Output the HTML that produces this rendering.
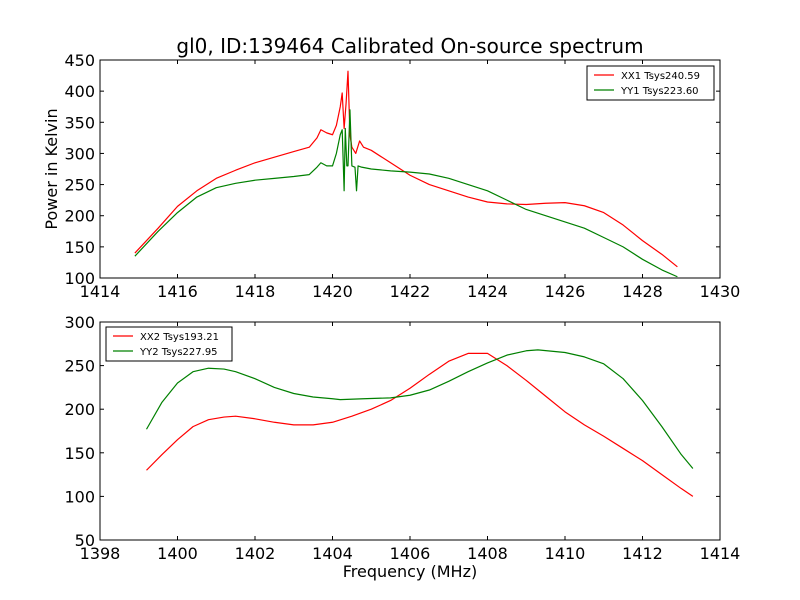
<!DOCTYPE html>
<html><head><meta charset="utf-8"><style>
body{margin:0;background:#fff;}
svg{display:block;font-family:"DejaVu Sans","Liberation Sans",sans-serif;}
</style></head><body>
<svg id="c" width="800" height="600"></svg>
<script>
const topXTicks=[1414,1416,1418,1420,1422,1424,1426,1428,1430];
const topYTicks=[100,150,200,250,300,350,400,450];
const botXTicks=[1398,1400,1402,1404,1406,1408,1410,1412,1414];
const botYTicks=[50,100,150,200,250,300];
const xx1F=[1414.9,1415.5,1416,1416.5,1417,1417.5,1418,1418.5,1419,1419.4,1419.6,1419.7,1419.85,1420,1420.1,1420.2,1420.25,1420.3,1420.35,1420.4,1420.45,1420.5,1420.6,1420.7,1420.8,1421,1421.5,1422,1422.5,1423,1423.5,1424,1424.5,1425,1425.5,1426,1426.5,1427,1427.5,1428,1428.5,1428.9];
const xx1V=[140,180,215,240,260,273,285,294,303,310,325,338,333,330,345,375,397,340,380,432,330,310,300,320,310,305,285,265,250,240,230,222,219,218,220,221,216,205,185,160,138,118];
const yy1F=[1414.9,1415.5,1416,1416.5,1417,1417.5,1418,1418.5,1419,1419.4,1419.6,1419.7,1419.85,1420,1420.1,1420.2,1420.25,1420.3,1420.33,1420.37,1420.4,1420.45,1420.5,1420.58,1420.62,1420.66,1420.75,1421,1421.5,1422,1422.5,1423,1423.5,1424,1424.5,1425,1425.5,1426,1426.5,1427,1427.5,1428,1428.5,1428.9];
const yy1V=[135,175,205,230,245,252,257,260,263,266,278,285,280,280,300,330,338,240,340,280,280,370,280,278,240,280,278,275,272,270,267,260,250,240,225,210,200,190,180,165,150,130,113,102];
const xx2F=[1399.2,1399.6,1400,1400.4,1400.8,1401.2,1401.5,1402,1402.5,1403,1403.5,1404,1404.5,1405,1405.5,1406,1406.5,1407,1407.5,1408,1408.5,1409,1409.5,1410,1410.5,1411,1411.5,1412,1412.5,1413,1413.3];
const xx2V=[130,148,165,180,188,191,192,189,185,182,182,185,192,200,210,224,240,255,264,264,250,233,215,197,182,169,155,141,125,109,100];
const yy2F=[1399.2,1399.6,1400,1400.4,1400.8,1401.2,1401.5,1402,1402.5,1403,1403.5,1404,1404.2,1404.8,1405.5,1406,1406.5,1407,1407.5,1408,1408.5,1409,1409.3,1410,1410.5,1411,1411.5,1412,1412.5,1413,1413.3];
const yy2V=[177,208,230,243,247,246,243,235,225,218,214,212,211,212,213,216,222,232,243,253,262,267,268,265,260,252,235,210,180,148,132];
const ns="http://www.w3.org/2000/svg";
const svg=document.getElementById('c');
function el(t,a,p){const e=document.createElementNS(ns,t);for(const k in a)e.setAttribute(k,a[k]);(p||svg).appendChild(e);return e;}
function axes(box,xr,yr,xt,yt,series,leg,name){
 const sx=v=>box.x0+(v-xr[0])/(xr[1]-xr[0])*(box.x1-box.x0);
 const sy=v=>box.y1-(v-yr[0])/(yr[1]-yr[0])*(box.y1-box.y0);
 const g=el('g',{});
 
 
 series.forEach(s=>{
  const p=el('polyline',{points:s.f.map((f,i)=>sx(f)+','+sy(s.v[i])).join(' '),fill:'none',stroke:s.c,'stroke-width':1.2,'stroke-linejoin':'round'},g);
  
  
 });
 el('rect',{x:box.x0,y:box.y0,width:box.x1-box.x0,height:box.y1-box.y0,fill:'none',stroke:'#000'},g);
 xt.forEach(t=>{const x=sx(t);
  el('line',{x1:x,x2:x,y1:box.y1,y2:box.y1-4,stroke:'#000'},g);
  el('line',{x1:x,x2:x,y1:box.y0,y2:box.y0+4,stroke:'#000'},g);
  const tx=el('text',{x:x,y:box.y1+19,'text-anchor':'middle','font-size':16},g);tx.textContent=t;
  
  
 });
 yt.forEach(t=>{const y=sy(t);
  el('line',{x1:box.x0,x2:box.x0+4,y1:y,y2:y,stroke:'#000'},g);
  el('line',{x1:box.x1,x2:box.x1-4,y1:y,y2:y,stroke:'#000'},g);
  const tx=el('text',{x:box.x0-5,y:y+6,'text-anchor':'end','font-size':16},g);tx.textContent=t;
  
  
 });
 const lg=el('g',{},g);
 
 
 el('rect',{x:leg.x,y:leg.y,width:leg.w,height:34,fill:'#fff',stroke:'#000'},lg);
 series.forEach((s,i)=>{const y=leg.y+9+i*15;
  el('line',{x1:leg.x+7,x2:leg.x+27,y1:y,y2:y,stroke:s.c,'stroke-width':1.2},lg);
  const tx=el('text',{x:leg.x+34,y:y+4,'font-size':10},lg);tx.textContent=s.l;
  
  
 });
}
axes({x0:100,x1:720,y0:60,y1:278},[1414,1430],[100,450],topXTicks,topYTicks,
 [{f:xx1F,v:xx1V,c:'#ff0000',l:'XX1 Tsys240.59',n:'xx1-line'},{f:yy1F,v:yy1V,c:'#008000',l:'YY1 Tsys223.60',n:'yy1-line'}],
 {x:587,y:66,w:127},'top-axes');
axes({x0:100,x1:720,y0:322,y1:540},[1398,1414],[50,300],botXTicks,botYTicks,
 [{f:xx2F,v:xx2V,c:'#ff0000',l:'XX2 Tsys193.21',n:'xx2-line'},{f:yy2F,v:yy2V,c:'#008000',l:'YY2 Tsys227.95',n:'yy2-line'}],
 {x:106,y:327,w:126},'bottom-axes');
let t=el('text',{x:410,y:53,'text-anchor':'middle','font-size':20});t.textContent='gl0, ID:139464 Calibrated On-source spectrum';


t=el('text',{x:410,y:577,'text-anchor':'middle','font-size':16});t.textContent='Frequency (MHz)';


t=el('text',{x:57,y:169,'text-anchor':'middle','font-size':16,transform:'rotate(-90 57 169)'});t.textContent='Power in Kelvin';


</script>
</body></html>
